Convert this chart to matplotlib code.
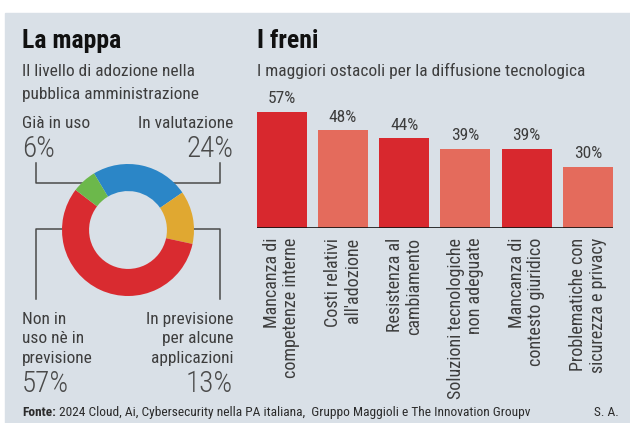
import matplotlib
matplotlib.use("Agg")
import matplotlib.pyplot as plt

plt.rcParams['font.family'] = ['Roboto Condensed', 'DejaVu Sans']

# dati - donut
slice_labels = ["In valutazione", "In previsione per alcune applicazioni",
                "Non in uso nè in previsione", "Già in uso"]
slice_values = [24, 13, 57, 6]
slice_colors = ["#2b86c7", "#e0a831", "#d92b30", "#6cb84b"]

# dati - barre
bar_labels = ["Mancanza di\ncompetenze interne", "Costi relativi\nall'adozione",
              "Resistenza al\ncambiamento", "Soluzioni tecnologiche\nnon adeguate",
              "Mancanza di\ncontesto giuridico", "Problematiche con\nsicurezza e privacy"]
bar_values = [57, 48, 44, 39, 39, 30]
bar_colors = ["#d8282e", "#e46b5c", "#d8282e", "#e46b5c", "#d8282e", "#e46b5c"]

W, H = 630, 423
BG = "#d9e0e7"
DARK = "#2b2b2b"
GREY = "#3d3d3d"

fig = plt.figure(figsize=(W / 100, H / 100), dpi=100)
fig.patch.set_facecolor("white")

# fond en pixels
bg = fig.add_axes([0, 0, 1, 1])
bg.set_xlim(0, W)
bg.set_ylim(H, 0)
bg.axis("off")
bg.add_patch(plt.Rectangle((5, 13), W - 5, H - 13, color=BG, zorder=0))

# titres
bg.text(22, 48, "La mappa", fontsize=18.5, fontweight="bold", color="#111111")
bg.text(22, 76, "Il livello di adozione nella", fontsize=12.5, color=GREY)
bg.text(22, 99, "pubblica amministrazione", fontsize=12.5, color=GREY)
bg.text(257, 48, "I freni", fontsize=18.5, fontweight="bold", color="#111111")
bg.text(257, 76, "I maggiori ostacoli per la diffusione tecnologica", fontsize=12.5, color=GREY)

# étiquettes du donut
bg.text(22, 128, "Già in uso", fontsize=12.5, color=GREY)
bg.text(22, 157, "%d%%" % slice_values[3], fontsize=21, fontweight="light", color="#4a4a4a")
bg.text(233, 128, "In valutazione", fontsize=12.5, color=GREY, ha="right")
bg.text(233, 157, "%d%%" % slice_values[0], fontsize=21, fontweight="light", color="#4a4a4a", ha="right")
bg.text(22, 363, "Non in\nuso nè in\nprevisione", fontsize=12.5, color=GREY,
        linespacing=1.38)
bg.text(22, 392, "%d%%" % slice_values[2], fontsize=21, fontweight="light", color="#4a4a4a")
bg.text(233, 363, "In previsione\nper alcune\napplicazioni", fontsize=12.5, color=GREY,
        ha="right", multialignment="right", linespacing=1.38)
bg.text(233, 392, "%d%%" % slice_values[1], fontsize=21, fontweight="light", color="#4a4a4a", ha="right")

# connecteurs
lc = "#4a4a4a"
bg.plot([36, 36, 85], [163, 183, 183], color=lc, lw=1.1)
bg.plot([220, 220, 170], [163, 183, 183], color=lc, lw=1.1)
bg.plot([66, 36, 36], [229, 229, 299], color=lc, lw=1.1)
bg.plot([190, 220, 220], [229, 229, 299], color=lc, lw=1.1)

# source
t = bg.text(22, 416, "Fonte:", fontsize=9.6, fontweight="bold", color=DARK)
bg.annotate(" 2024 Cloud, Ai, Cybersecurity nella PA italiana,  Gruppo Maggioli e The Innovation Groupv",
            xy=(1, 0), xycoords=t, va="bottom", fontsize=9.6, color=DARK)
bg.text(619, 416, "S. A.", fontsize=9.6, color=DARK, ha="right")

# donut
cx, cy, r = 128, 230, 66
ax1 = fig.add_axes([(cx - r) / W, 1 - (cy + r) / H, 2 * r / W, 2 * r / H])
ax1.pie(slice_values, colors=slice_colors, startangle=121, counterclock=False,
        radius=1, wedgeprops=dict(width=0.41, linewidth=0))
ax1.set_xlim(-1, 1)
ax1.set_ylim(-1, 1)
ax1.set_aspect("equal")
ax1.axis("off")

# barres
left, right, base, top = 256.7, 613, 228, 228 - 60 * 2.035
ax2 = fig.add_axes([left / W, 1 - base / H, (right - left) / W, (base - top) / H])
ax2.patch.set_alpha(0)
x = range(len(bar_values))
bars = ax2.bar(x, bar_values, width=0.816, color=bar_colors)
ax2.set_xlim(-0.408, len(bar_values) - 1 + 0.408)
ax2.set_ylim(0, 60)
for b, v in zip(bars, bar_values):
    ax2.annotate("%d%%" % v, (b.get_x() + b.get_width() / 2, v), xytext=(0, 4),
                 textcoords="offset points", ha="center", va="bottom",
                 fontsize=12.5, color=GREY)
ax2.axhline(0, color="#111111", lw=1.2)
for s in ax2.spines.values():
    s.set_visible(False)
ax2.set_yticks([])
ax2.set_xticks(list(x))
ax2.set_xticklabels(bar_labels, rotation=90, ha="center", va="top",
                    multialignment="right", fontsize=13, color=GREY, linespacing=1.1)
ax2.tick_params(axis="x", length=0, pad=7)

fig.savefig("out.png", dpi=100)
